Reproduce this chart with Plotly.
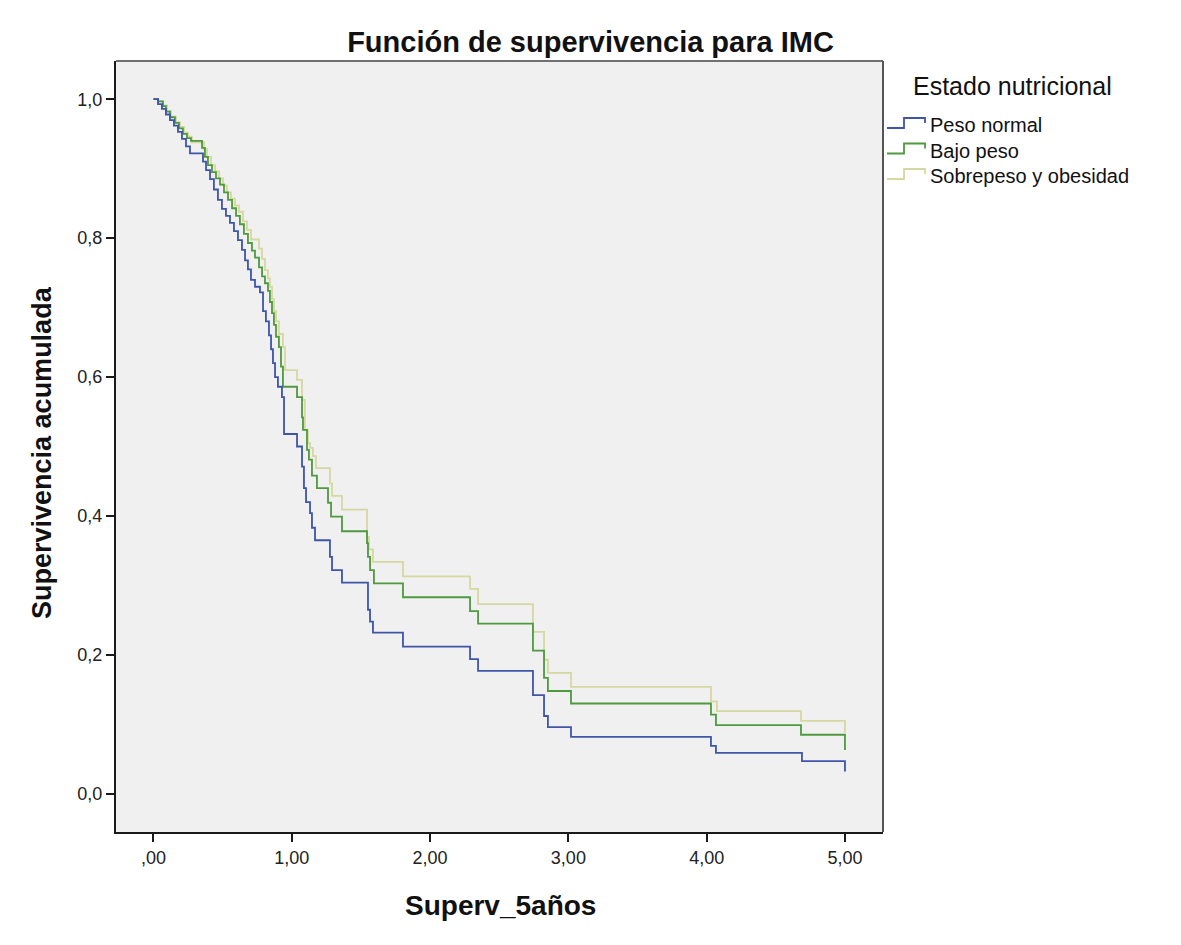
import plotly.graph_objects as go

# Survival curves (Kaplan-Meier steps): time (years) and cumulative survival after each event
peso_normal_t = [0.0, 0.033, 0.061, 0.090, 0.119, 0.148, 0.177, 0.206, 0.235, 0.264, 0.358, 0.380, 0.409, 0.437,
                 0.466, 0.495, 0.524, 0.553, 0.582, 0.611, 0.640, 0.662, 0.683, 0.705, 0.734, 0.770, 0.792,
                 0.813, 0.835, 0.850, 0.864, 0.879, 0.900, 0.929, 0.944, 1.038, 1.074, 1.088, 1.103, 1.132,
                 1.146, 1.168, 1.276, 1.291, 1.363, 1.551, 1.566, 1.587, 1.804, 2.289, 2.347, 2.744, 2.824,
                 2.852, 3.019, 4.031, 4.067, 4.689, 5.000]
peso_normal_s = [1.0, 0.993, 0.986, 0.978, 0.970, 0.962, 0.953, 0.943, 0.932, 0.922, 0.910, 0.898, 0.885, 0.870,
                 0.855, 0.842, 0.832, 0.822, 0.810, 0.797, 0.783, 0.768, 0.755, 0.740, 0.730, 0.722, 0.695,
                 0.680, 0.660, 0.640, 0.620, 0.600, 0.586, 0.571, 0.518, 0.500, 0.471, 0.440, 0.420, 0.404,
                 0.383, 0.365, 0.341, 0.322, 0.304, 0.265, 0.248, 0.232, 0.212, 0.194, 0.177, 0.142, 0.112,
                 0.096, 0.082, 0.069, 0.059, 0.047, 0.032]

bajo_peso_t = [0.0, 0.033, 0.069, 0.090, 0.119, 0.155, 0.184, 0.213, 0.242, 0.271, 0.351, 0.372, 0.394, 0.423,
               0.452, 0.481, 0.510, 0.539, 0.568, 0.597, 0.625, 0.654, 0.683, 0.712, 0.734, 0.763, 0.785,
               0.806, 0.828, 0.842, 0.857, 0.871, 0.886, 0.907, 0.922, 0.936, 1.038, 1.074, 1.081, 1.110,
               1.124, 1.146, 1.182, 1.262, 1.284, 1.363, 1.544, 1.551, 1.566, 1.594, 1.804, 2.289, 2.347,
               2.744, 2.824, 2.852, 3.019, 4.031, 4.067, 4.682, 5.000]
bajo_peso_s = [1.0, 0.997, 0.990, 0.982, 0.974, 0.966, 0.958, 0.950, 0.944, 0.940, 0.930, 0.917, 0.905, 0.895,
               0.886, 0.877, 0.866, 0.855, 0.843, 0.832, 0.820, 0.806, 0.793, 0.782, 0.772, 0.758, 0.745,
               0.735, 0.724, 0.708, 0.692, 0.675, 0.658, 0.643, 0.615, 0.586, 0.571, 0.542, 0.524, 0.495,
               0.481, 0.458, 0.440, 0.419, 0.399, 0.378, 0.361, 0.341, 0.322, 0.303, 0.283, 0.263, 0.245,
               0.206, 0.167, 0.148, 0.130, 0.114, 0.099, 0.085, 0.063]

sobrepeso_t = [0.0, 0.033, 0.069, 0.098, 0.127, 0.163, 0.192, 0.221, 0.249, 0.278, 0.365, 0.387, 0.416, 0.445,
               0.474, 0.503, 0.531, 0.560, 0.589, 0.618, 0.647, 0.676, 0.705, 0.763, 0.785, 0.806, 0.828,
               0.842, 0.857, 0.871, 0.886, 0.907, 0.936, 0.951, 1.038, 1.074, 1.095, 1.117, 1.132, 1.153,
               1.175, 1.276, 1.291, 1.363, 1.544, 1.558, 1.587, 1.804, 2.289, 2.347, 2.744, 2.824, 2.852,
               3.019, 4.031, 4.074, 4.682, 5.000]
sobrepeso_s = [1.0, 0.997, 0.991, 0.983, 0.975, 0.967, 0.960, 0.952, 0.946, 0.938, 0.928, 0.917, 0.905, 0.896,
               0.886, 0.876, 0.866, 0.857, 0.847, 0.838, 0.824, 0.812, 0.798, 0.785, 0.770, 0.754, 0.742,
               0.730, 0.712, 0.695, 0.680, 0.662, 0.643, 0.610, 0.596, 0.567, 0.524, 0.505, 0.498, 0.486,
               0.469, 0.447, 0.429, 0.409, 0.370, 0.352, 0.334, 0.313, 0.295, 0.273, 0.233, 0.193, 0.174,
               0.154, 0.133, 0.119, 0.105, 0.088]

series_names = ["Peso normal", "Bajo peso", "Sobrepeso y obesidad"]
series_colors = ["#3e55a8", "#4e9a3e", "#d5d8a0"]
legend_title = "Estado nutricional"

x_tickvals = [0, 1, 2, 3, 4, 5]
x_ticktext = [",00", "1,00", "2,00", "3,00", "4,00", "5,00"]
y_tickvals = [0, 0.2, 0.4, 0.6, 0.8, 1.0]
y_ticktext = ["0,0", "0,2", "0,4", "0,6", "0,8", "1,0"]

FONT = "Arial, Liberation Sans, sans-serif"

# plot-area geometry in pixels (used only for placing the decorations)
L, R, T, B = 116, 883, 61, 832
W, H = R - L, B - T


def px(xp):
    return (xp - L) / W


def py(yp):
    return (B - yp) / H


fig = go.Figure()
data = [(peso_normal_t, peso_normal_s), (bajo_peso_t, bajo_peso_s), (sobrepeso_t, sobrepeso_s)]
# draw in reverse order so that blue ends on top
for i in [2, 1, 0]:
    t, s = data[i]
    fig.add_trace(go.Scatter(x=t, y=s, mode="lines", line_shape="hv", name=series_names[i],
                             line=dict(color=series_colors[i], width=1.8), showlegend=False))

axis_common = dict(showline=True, linecolor="#1a1a1a", linewidth=2, mirror=False, ticks="outside",
                   ticklen=8, tickwidth=2, tickcolor="#1a1a1a", showgrid=False, zeroline=False,
                   tickfont=dict(family=FONT, size=18, color="#222222"))

shapes = [
    # top and right frame lines (greyer than the axis lines in the original)
    dict(type="line", xref="paper", yref="paper", x0=0, x1=1, y0=1, y1=1,
         line=dict(color="#707070", width=2)),
    dict(type="line", xref="paper", yref="paper", x0=1, x1=1, y0=0, y1=1,
         line=dict(color="#555555", width=2)),
]
annotations = [
    dict(text="<b>Supervivencia acumulada</b>", textangle=-90, xref="paper", yref="paper",
         x=px(42), y=py(453), xanchor="center", yanchor="middle",
         showarrow=False, font=dict(family=FONT, size=27, color="#111111")),
    dict(text="<b>Superv_5años</b>", xref="paper", yref="paper",
         x=px(500), y=py(905), xanchor="center", yanchor="middle", showarrow=False,
         font=dict(family=FONT, size=28, color="#111111")),
    dict(text=legend_title, xref="paper", yref="paper",
         x=px(911), y=py(86), xanchor="left", yanchor="middle", showarrow=False,
         font=dict(family=FONT, size=25, color="#111111")),
]
# custom legend with step-shaped symbols, as in the SPSS output
for k, (name, col) in enumerate(zip(series_names, series_colors)):
    yc = 125 + 25.5 * k
    path = "M {:.5f},{:.5f} L {:.5f},{:.5f} L {:.5f},{:.5f} L {:.5f},{:.5f} L {:.5f},{:.5f} L {:.5f},{:.5f}".format(
        px(887), py(yc + 3), px(904), py(yc + 3), px(904), py(yc - 7), px(925), py(yc - 7),
        px(925), py(yc - 2), px(925), py(yc - 2))
    shapes.append(dict(type="path", xref="paper", yref="paper", path=path,
                       line=dict(color=col, width=1.8)))
    annotations.append(dict(text=name, xref="paper", yref="paper", x=px(928), y=py(yc),
                            xanchor="left", yanchor="middle", showarrow=False,
                            font=dict(family=FONT, size=20, color="#111111")))

fig.update_layout(
    width=1181, height=945,
    margin=dict(l=L, r=1181 - R, t=T, b=945 - B),
    paper_bgcolor="white", plot_bgcolor="#f0f0f0",
    title=dict(text="<b>Función de supervivencia para IMC</b>", x=0.5, xref="container", xanchor="center",
               y=1 - 42 / 945, yref="container", yanchor="middle",
               font=dict(family=FONT, size=29, color="#111111")),
    xaxis=dict(range=[-0.271, 5.275], tickvals=x_tickvals, ticktext=x_ticktext, **axis_common),
    yaxis=dict(range=[-0.055, 1.055], tickvals=y_tickvals, ticktext=y_ticktext, **axis_common),
    showlegend=False,
    shapes=shapes,
    annotations=annotations,
)

fig.write_html("out.html")
